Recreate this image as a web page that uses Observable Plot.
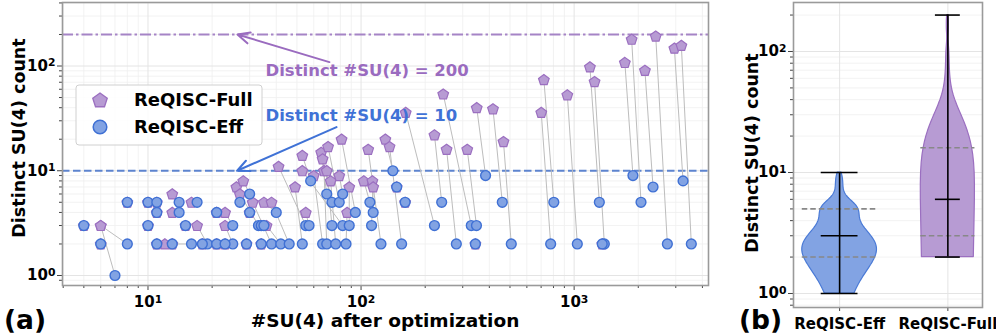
<!DOCTYPE html>
<html>
<head>
<meta charset="utf-8">
<script src="https://cdn.jsdelivr.net/npm/d3@7"></script>
<script src="https://cdn.jsdelivr.net/npm/@observablehq/plot@0.6"></script>
<style>
  html, body { margin: 0; padding: 0; background: #fff; }
  #wrap { position: relative; width: 996px; height: 336px; overflow: hidden; font-family: "DejaVu Sans", sans-serif; }
  #wrap > svg, #wrap > figure { position: absolute; top: 0; margin: 0; }
  #overlay { position: absolute; left: 0; top: 0; pointer-events: none; }
</style>
</head>
<body>
<div id="wrap"></div>
<script>
// ---------- data ----------
// ReQISC-Full: #SU(4) after optimization and distinct SU(4) count per benchmark
const fullX = [6, 6, 12, 13, 13, 16, 17, 23, 23, 26, 27, 28, 31, 35, 36, 38, 41, 49, 53, 53,
  55, 60, 65, 66, 67, 69, 70, 72, 79, 81, 86, 88, 103, 108, 113, 114, 130, 136, 162, 221,
  243, 252, 315, 349, 416, 466, 701, 721, 929, 1186, 1247, 1730, 1862, 2149, 2415, 2954, 3186,
  6, 11, 13, 18, 21, 23, 29, 34, 344, 1355, 5, 10, 15, 34, 35, 11, 21, 30, 8, 10, 11, 161, 147];
const fullY = [3, 3, 2, 6, 4, 5, 3, 4, 3, 7, 6, 8, 5, 5, 3, 5, 11, 7, 14, 10,
  4, 9, 15, 13, 10, 10, 17, 8, 9, 20, 4, 7, 8, 16, 8, 7, 20, 17, 36, 22,
  54, 16, 16, 40, 39, 19, 36, 74, 53, 98, 71, 108, 180, 91, 193, 148, 157,
  2, 2, 2, 2, 2, 2, 2, 2, 2, 2, 3, 3, 3, 3, 3, 4, 4, 4, 5, 5, 5, 5, 7];
// ReQISC-Eff: same benchmarks
const effX = [7, 8, 16, 14, 14, 17, 19, 25, 25, 27, 33, 30, 38, 40, 42, 46, 55, 53, 58, 82,
  57, 66, 69, 73, 69, 73, 79, 76, 82, 94, 85, 88, 110, 124, 114, 112, 141, 155, 221, 239,
  329, 280, 348, 384, 460, 507, 776, 803, 1035, 1313, 1386, 1888, 2060, 2346, 2739, 3245, 3548,
  6, 11, 13, 18, 21, 23, 29, 34, 344, 1355, 5, 10, 15, 34, 35, 11, 21, 30, 8, 10, 11, 161, 147];
const effY = [1, 2, 2, 5, 4, 5, 2, 3, 2, 5, 3, 6, 2, 4, 2, 2, 3, 2, 8, 3,
  3, 2, 6, 5, 2, 3, 5, 2, 6, 4, 2, 3, 5, 2, 4, 3, 10, 2, 3, 5,
  3, 2, 3, 9, 5, 2, 2, 5, 2, 5, 2, 9, 5, 7, 2, 8, 2,
  2, 2, 2, 2, 2, 2, 2, 2, 2, 2, 3, 3, 3, 3, 3, 4, 4, 4, 5, 5, 5, 5, 7];

const thresholds = [200, 10];
const annoLabels = ["Distinct #SU(4) = 200", "Distinct #SU(4) = 10"];
const annoTextX = [35.6, 35.6];
const annoTextY = [90.8, 33.7];
const arrowFromX = [71, 76.7];
const arrowFromY = [109, 26.1];
const arrowToX = [26.3, 26.2];
const arrowToY = [200, 10];

const violinNames = ["ReQISC-Eff", "ReQISC-Full"];
// min, q1, median, q3, max
const violinMin = [1, 2];
const violinQ1 = [2, 3];
const violinMedian = [3, 6];
const violinQ3 = [5, 16];
const violinMax = [10, 200];

const xMajorTicks = [10, 100, 1000];
const yMajorTicks = [1, 10, 100];

// ---------- styling ----------
const PURPLE = "#9b6fc0", PURPLE_FILL = "#b79bd3", PURPLE_TEXT = "#9a6bbf";
const BLUE = "#3f70d4", BLUE_FILL = "#82a3e3", BLUE_TEXT = "#3f72d6";
const FONT = "DejaVu Sans";

const supDigits = {"0": "⁰", "1": "¹", "2": "²", "3": "³", "-": "⁻"};
const sup = d => "10" + String(Math.round(Math.log10(d))).split("").map(c => supDigits[c]).join("");

function minorTicks(lo, hi) {
  const out = [];
  for (let e = Math.floor(Math.log10(lo)); e <= Math.ceil(Math.log10(hi)); e++)
    for (let m = 2; m <= 9; m++) {
      const v = m * Math.pow(10, e);
      if (v >= lo && v <= hi) out.push(v);
    }
  return out;
}

const pentagon = {
  draw(context, size) {
    const r = Math.sqrt(size / Math.PI) * 1.12;
    for (let i = 0; i < 5; i++) {
      const a = -Math.PI / 2 + i * 2 * Math.PI / 5;
      const x = r * Math.cos(a), y = r * Math.sin(a) + r * 0.08;
      if (i) context.lineTo(x, y); else context.moveTo(x, y);
    }
    context.closePath();
  }
};

const bench = fullX.map((d, i) => ({fx: d, fy: fullY[i], ex: effX[i], ey: effY[i]}));
const annos = annoLabels.map((t, i) => ({t, tx: annoTextX[i], ty: annoTextY[i],
  x1: arrowFromX[i], y1: arrowFromY[i], x2: arrowToX[i], y2: arrowToY[i], c: i === 0 ? PURPLE_TEXT : BLUE_TEXT}));

// ---------- panel (a) ----------
const xDomA = [3.97, 4272], yDomA = [0.8027, 404];
const xMinorA = minorTicks(xDomA[0], xDomA[1]);
const yMinorA = minorTicks(yDomA[0], yDomA[1]);

const plotA = Plot.plot({
  width: 710, height: 336,
  marginLeft: 62, marginRight: 2, marginTop: 2, marginBottom: 51,
  style: {fontFamily: FONT, background: "transparent", overflow: "visible"},
  x: {type: "log", domain: xDomA, label: null},
  y: {type: "log", domain: yDomA, label: null},
  marks: [
    Plot.gridX(xMinorA, {stroke: "#efefef", strokeOpacity: 1, strokeWidth: 0.8}),
    Plot.gridY(yMinorA, {stroke: "#efefef", strokeOpacity: 1, strokeWidth: 0.8}),
    Plot.gridX(xMajorTicks, {stroke: "#e4e4e4", strokeOpacity: 1, strokeWidth: 1}),
    Plot.gridY(yMajorTicks, {stroke: "#e4e4e4", strokeOpacity: 1, strokeWidth: 1}),
    Plot.ruleY([thresholds[0]], {stroke: "#a584c6", strokeWidth: 2, strokeDasharray: "11,3,2.5,3"}),
    Plot.ruleY([thresholds[1]], {stroke: "#5d84cf", strokeWidth: 2, strokeDasharray: "7.5,3.5"}),
    Plot.link(bench, {x1: "fx", y1: "fy", x2: "ex", y2: "ey", stroke: "#bdbdbd", strokeWidth: 1}),
    Plot.dot(bench, {x: "fx", y: "fy", symbol: pentagon, r: 5, fill: PURPLE_FILL, stroke: PURPLE, strokeWidth: 1.2}),
    Plot.dot(bench, {x: "ex", y: "ey", r: 4.9, fill: BLUE_FILL, stroke: BLUE, strokeWidth: 1.4}),
    Plot.arrow(annos, {x1: "x1", y1: "y1", x2: "x2", y2: "y2", stroke: "c", strokeWidth: 2, headLength: 10, headAngle: 50}),
    Plot.text(annos, {x: "tx", y: "ty", text: "t", fill: "c", textAnchor: "start", fontSize: 16.5, fontWeight: "bold"}),
    Plot.axisX(xMajorTicks, {tickSize: 5, tickPadding: 6, tickFormat: sup, fontSize: 15, fontWeight: "bold", label: null, stroke: "#444", color: "#000"}),
    Plot.axisX(xMinorA, {tickSize: 3, tickFormat: () => "", label: null, stroke: "#444"}),
    Plot.axisY(yMajorTicks, {tickSize: 5, tickPadding: 2, tickFormat: sup, fontSize: 15, fontWeight: "bold", label: null, stroke: "#444", color: "#000"}),
    Plot.axisY(yMinorA, {tickSize: 3, tickFormat: () => "", label: null, stroke: "#444"}),
    Plot.frame({stroke: "#9a9a9a", strokeWidth: 1.6})
  ]
});

// ---------- panel (b) ----------
function kde(values, lo, hi, n) {
  const sd = d3.deviation(values);
  const bw = sd * Math.pow(values.length, -1 / 5);
  const pts = [];
  for (let i = 0; i < n; i++) {
    const y = lo + (hi - lo) * i / (n - 1);
    let s = 0;
    for (const v of values) s += Math.exp(-0.5 * ((y - v) / bw) ** 2);
    pts.push({y, d: s});
  }
  const mx = d3.max(pts, p => p.d);
  pts.forEach(p => p.d /= mx);
  return pts;
}
const halfWidth = [0.345, 0.25];
const capWidth = [0.17, 0.115];
const violinData = [effY, fullY].map((vals, i) =>
  kde(vals, violinMin[i], violinMax[i], 100).map(p => ({...p, g: i, pos: i + 1, hw: halfWidth[i]})));
const stats = violinNames.map((name, i) => ({name, pos: i + 1, min: violinMin[i], q1: violinQ1[i],
  med: violinMedian[i], q3: violinQ3[i], max: violinMax[i], hw: halfWidth[i], cw: capWidth[i]}));

const xDomB = [0.574, 2.32], yDomB = [0.766, 254];
const yMinorB = minorTicks(yDomB[0], yDomB[1]);
const plotB = Plot.plot({
  width: 256, height: 336,
  marginLeft: 53, marginRight: 14, marginTop: 2, marginBottom: 29,
  style: {fontFamily: FONT, background: "transparent", overflow: "visible"},
  x: {domain: xDomB, label: null},
  y: {type: "log", domain: yDomB, label: null},
  marks: [
    Plot.gridY(yMinorB, {stroke: "#efefef", strokeOpacity: 1, strokeWidth: 0.8}),
    Plot.gridY(yMajorTicks, {stroke: "#e4e4e4", strokeOpacity: 1, strokeWidth: 1}),
    Plot.gridX([1, 2], {stroke: "#e4e4e4", strokeOpacity: 1, strokeWidth: 1}),
    Plot.areaX(violinData[0], {y: "y", x1: p => p.pos - p.d * p.hw, x2: p => p.pos + p.d * p.hw, fill: BLUE_FILL, stroke: "#4a7ad6", strokeWidth: 1.2, curve: "linear"}),
    Plot.areaX(violinData[1], {y: "y", x1: p => p.pos - p.d * p.hw, x2: p => p.pos + p.d * p.hw, fill: PURPLE_FILL, stroke: PURPLE, strokeWidth: 1.2, curve: "linear"}),
    Plot.ruleY(stats, {y: "q1", x1: d => d.pos - d.hw, x2: d => d.pos + d.hw, stroke: "#888", strokeWidth: 1.6, strokeDasharray: "5.5,3"}),
    Plot.ruleY(stats, {y: "q3", x1: d => d.pos - d.hw, x2: d => d.pos + d.hw, stroke: "#888", strokeWidth: 1.6, strokeDasharray: "5.5,3"}),
    Plot.ruleX(stats, {x: "pos", y1: "min", y2: "max", stroke: "#000", strokeWidth: 1.6}),
    Plot.ruleY(stats, {y: "min", x1: d => d.pos - d.cw, x2: d => d.pos + d.cw, stroke: "#000", strokeWidth: 1.6}),
    Plot.ruleY(stats, {y: "max", x1: d => d.pos - d.cw, x2: d => d.pos + d.cw, stroke: "#000", strokeWidth: 1.6}),
    Plot.ruleY(stats, {y: "med", x1: d => d.pos - d.cw, x2: d => d.pos + d.cw, stroke: "#000", strokeWidth: 1.6}),
    Plot.axisX([1, 2], {tickSize: 4, tickPadding: 7, tickFormat: d => violinNames[d - 1], fontSize: 15, fontWeight: "bold", label: null, stroke: "#444", color: "#000"}),
    Plot.axisY(yMajorTicks, {tickSize: 5, tickPadding: 2, tickFormat: sup, fontSize: 15, fontWeight: "bold", label: null, stroke: "#444", color: "#000"}),
    Plot.axisY(yMinorB, {tickSize: 3, tickFormat: () => "", label: null, stroke: "#444"}),
    Plot.frame({stroke: "#9a9a9a", strokeWidth: 1.6})
  ]
});

// superscript exponents as raised smaller text (like matplotlib mathtext)
const plainDigits = {"⁰": "0", "¹": "1", "²": "2", "³": "3", "⁻": "−"};
function fixSup(svg) {
  d3.select(svg).selectAll("text").each(function () {
    const m = /^10([⁰¹²³⁻]+)$/.exec(this.textContent);
    if (!m) return;
    const exp = m[1].split("").map(c => plainDigits[c]).join("");
    this.textContent = "10";
    d3.select(this).append("tspan").attr("dy", "-0.42em").attr("font-size", "72%").text(exp);
  });
}
fixSup(plotA); fixSup(plotB);

const wrap = document.getElementById("wrap");
plotA.style.left = "0px";
plotB.style.left = "740px";
wrap.appendChild(plotA);
wrap.appendChild(plotB);

// ---------- overlay: axis titles, panel tags, legend ----------
const ov = d3.select(wrap).append("svg").attr("id", "overlay").attr("width", 996).attr("height", 336)
  .style("font-family", FONT);
ov.append("text").attr("transform", "translate(25,138) rotate(-90)").attr("text-anchor", "middle")
  .attr("font-size", 17.5).attr("font-weight", "bold").text("Distinct SU(4) count");
ov.append("text").attr("x", 385).attr("y", 326.5).attr("text-anchor", "middle")
  .attr("font-size", 18.5).attr("font-weight", "bold").text("#SU(4) after optimization");
ov.append("text").attr("transform", "translate(758,153) rotate(-90)").attr("text-anchor", "middle")
  .attr("font-size", 17.5).attr("font-weight", "bold").text("Distinct SU(4) count");
ov.append("text").attr("x", 4).attr("y", 329).attr("font-size", 26.5).attr("font-weight", "bold").text("(a)");
ov.append("text").attr("x", 739).attr("y", 329).attr("font-size", 26.5).attr("font-weight", "bold").text("(b)");

const lg = ov.append("g");
lg.append("rect").attr("x", 76).attr("y", 85).attr("width", 186).attr("height", 60).attr("rx", 3)
  .attr("fill", "rgba(255,255,255,0.85)").attr("stroke", "#d0d0d0").attr("stroke-width", 1);
const pg = d3.path(); pentagon.draw(pg, 6.8 * 6.8 * Math.PI);
lg.append("path").attr("d", pg.toString()).attr("transform", "translate(100,100)")
  .attr("fill", PURPLE_FILL).attr("stroke", PURPLE).attr("stroke-width", 1.3);
lg.append("circle").attr("cx", 100).attr("cy", 127).attr("r", 6.8)
  .attr("fill", BLUE_FILL).attr("stroke", BLUE).attr("stroke-width", 1.5);
lg.append("text").attr("x", 134).attr("y", 106).attr("font-size", 18).attr("font-weight", "bold").text("ReQISC-Full");
lg.append("text").attr("x", 134).attr("y", 133).attr("font-size", 18).attr("font-weight", "bold").text("ReQISC-Eff");
</script>
</body>
</html>
